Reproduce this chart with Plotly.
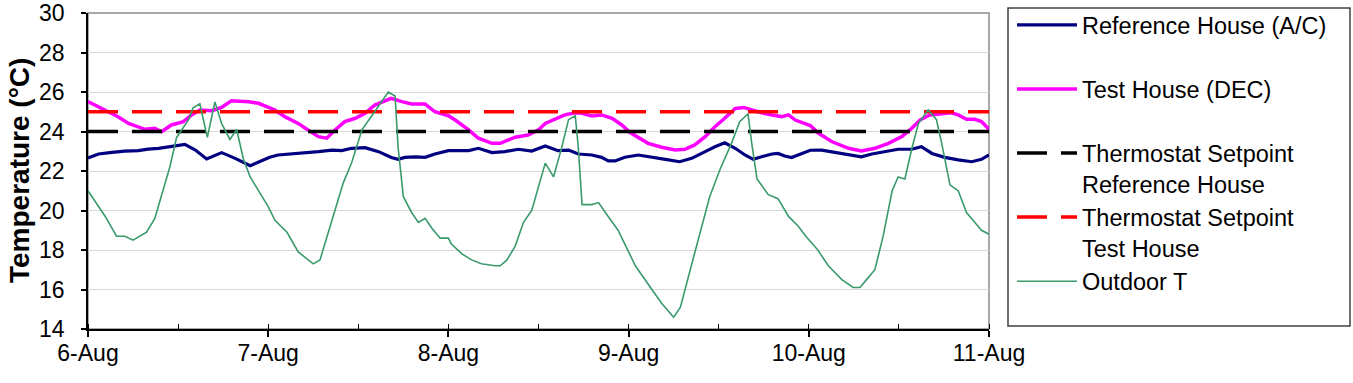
import plotly.graph_objects as go

# ---- data ----
day_labels = ["6-Aug", "7-Aug", "8-Aug", "9-Aug", "10-Aug", "11-Aug"]
day_hours = [0, 24, 48, 72, 96, 120]

ref_hours = [0, 1.4, 3.2, 4.9, 6.7, 8.0, 9.4, 11.1, 12.9, 14.3, 15.8, 17.8, 19.6, 21.6, 23.1,
             24.2, 25.3, 27.1, 28.9, 30.7, 32.5, 33.8, 35.1, 36.9, 38.7, 40.4, 41.3, 42.2, 43.6, 44.9, 46.2,
             48.0, 49.3, 50.7, 52.0, 53.8, 55.5, 57.3, 59.1, 60.9, 62.6, 64.0, 65.3, 67.1, 68.4, 69.3, 70.2, 71.5,
             73.3, 75.1, 76.9, 78.8, 80.4, 82.2, 83.5, 84.8, 86.2, 87.5, 88.6, 89.7, 91.1, 91.9, 92.8, 93.7, 95.1,
             96.2, 97.7, 99.9, 101.7, 103.0, 104.4, 106.2, 107.9, 109.7, 111.0, 112.4, 114.1, 115.9, 117.7, 119.0, 120.0]
ref_temp = [22.66, 22.86, 22.94, 23.01, 23.03, 23.11, 23.15, 23.23, 23.35, 23.06, 22.61, 22.93, 22.64, 22.27, 22.52,
            22.70, 22.81, 22.86, 22.93, 22.98, 23.06, 23.03, 23.15, 23.18, 22.98, 22.68, 22.59, 22.69, 22.72, 22.69, 22.86,
            23.03, 23.03, 23.03, 23.15, 22.93, 22.98, 23.10, 23.01, 23.27, 23.03, 23.06, 22.86, 22.81, 22.69, 22.51, 22.51, 22.70,
            22.81, 22.72, 22.59, 22.47, 22.64, 22.98, 23.23, 23.43, 23.15, 22.81, 22.59, 22.72, 22.86, 22.89, 22.76, 22.68, 22.89,
            23.05, 23.06, 22.93, 22.81, 22.72, 22.86, 22.98, 23.10, 23.10, 23.23, 22.89, 22.69, 22.56, 22.47, 22.59, 22.81]

test_hours = [0, 0.9, 2.3, 4.0, 5.4, 6.7, 7.6, 8.9, 9.8, 11.1, 12.7, 13.8, 14.9, 16.5, 17.8, 19.1, 21.4, 22.7,
              24.2, 24.9, 26.2, 28.0, 29.3, 30.7, 31.8, 32.9, 34.2, 35.6, 36.9, 38.2, 39.8, 40.4, 41.8, 43.1, 44.9, 46.2,
              48.0, 48.9, 50.7, 52.0, 53.8, 54.9, 56.0, 56.9, 58.6, 60.0, 60.9, 62.2, 63.5, 64.9, 65.8, 67.1, 68.4, 69.8, 71.1,
              72.2, 74.6, 76.4, 78.2, 79.5, 80.8, 82.2, 83.5, 84.8, 86.2, 87.3, 88.4, 89.7, 91.1, 92.4, 93.3, 94.2,
              96.2, 97.3, 99.1, 101.3, 103.0, 104.8, 106.6, 108.4, 109.7, 110.8, 112.1, 113.7, 115.0, 115.9, 117.0, 118.1, 119.0, 120.0]
test_temp = [25.52, 25.34, 25.09, 24.75, 24.41, 24.24, 24.11, 24.16, 23.99, 24.33, 24.50, 24.84, 25.09, 25.05, 25.22, 25.56, 25.51, 25.43,
             25.20, 25.09, 24.75, 24.41, 24.08, 23.74, 23.66, 24.08, 24.50, 24.67, 24.92, 25.34, 25.59, 25.68, 25.51, 25.39, 25.39, 25.00,
             24.80, 24.58, 24.08, 23.66, 23.40, 23.40, 23.57, 23.71, 23.82, 24.08, 24.41, 24.62, 24.84, 24.95, 24.92, 24.78, 24.84, 24.67, 24.33,
             23.95, 23.40, 23.20, 23.06, 23.10, 23.32, 23.74, 24.24, 24.67, 25.17, 25.22, 25.09, 24.95, 24.84, 24.75, 24.84, 24.58,
             24.30, 23.91, 23.48, 23.15, 23.01, 23.15, 23.40, 23.74, 24.16, 24.58, 24.84, 24.89, 24.95, 24.84, 24.62, 24.62, 24.50, 24.11]

out_hours = [0, 2.3, 3.8, 4.9, 6.0, 7.8, 8.9, 10.0, 10.9, 11.8, 12.5, 13.4, 14.0, 14.9, 15.9, 16.9, 17.8, 18.9, 19.8, 20.7, 21.6, 22.7, 24.0,
             24.9, 26.5, 28.0, 30.0, 30.9, 32.5, 34.0, 35.1, 36.5, 37.8, 38.9, 40.0, 40.9, 41.3, 42.0, 43.1, 44.0, 44.9, 45.8, 46.9, 48.0,
             48.4, 49.8, 51.1, 52.4, 54.2, 54.9, 55.8, 56.9, 58.0, 59.1, 60.0, 60.9, 62.0, 63.1, 64.0, 64.9, 65.3, 65.8, 67.1, 68.0, 68.9, 69.8, 70.6, 71.5,
             72.9, 75.1, 76.4, 78.0, 78.9, 80.0, 81.3, 82.8, 84.2, 85.7, 86.8, 87.9, 88.4, 89.1, 90.6, 91.9, 93.3, 94.6, 95.6,
             97.2, 98.6, 100.4, 101.9, 102.8, 103.7, 104.8, 105.9, 107.1, 107.9, 108.8, 109.7, 110.6, 111.9, 113.0, 113.7, 114.8,
             115.9, 117.0, 118.1, 119.0, 120.0]
out_temp = [21.0, 19.7, 18.7, 18.7, 18.5, 18.9, 19.6, 21.0, 22.2, 23.7, 24.1, 24.6, 25.2, 25.4, 23.7, 25.5, 24.4, 23.6, 24.1, 22.6, 21.7, 21.0, 20.2,
            19.5, 18.9, 17.9, 17.3, 17.5, 19.5, 21.4, 22.4, 24.1, 24.8, 25.4, 26.0, 25.8, 23.2, 20.7, 19.9, 19.4, 19.6, 19.1, 18.6, 18.6,
            18.3, 17.8, 17.5, 17.3, 17.2, 17.2, 17.5, 18.2, 19.4, 20.0, 21.2, 22.4, 21.7, 23.2, 24.6, 24.8, 23.2, 20.3, 20.3, 20.4, 19.9, 19.4, 19.0, 18.3,
            17.2, 16.0, 15.3, 14.6, 15.1, 16.7, 18.5, 20.7, 22.1, 23.4, 24.5, 24.9, 23.4, 21.6, 20.8, 20.6, 19.7, 19.2, 18.7,
            18.0, 17.2, 16.5, 16.1, 16.1, 16.5, 17.0, 18.7, 21.0, 21.7, 21.6, 23.1, 24.4, 25.1, 24.6, 23.4, 21.3,
            21.0, 19.9, 19.4, 19.0, 18.8]

setpoint_ref = 24
setpoint_test = 25
period = [day_hours[0], day_hours[-1]]

series_names = ["Reference House (A/C)", "Test House (DEC)",
                "Thermostat Setpoint<br>Reference House", "Thermostat Setpoint<br>Test House",
                "Outdoor T"]

FONT = "Liberation Sans, Arial, sans-serif"
BLANK = "<br>\u00a0"

fig = go.Figure()
fig.add_trace(go.Scatter(x=ref_hours, y=ref_temp, mode="lines", name=series_names[0] + BLANK,
                         line=dict(color="#000080", width=3.2)))
fig.add_trace(go.Scatter(x=test_hours, y=test_temp, mode="lines", name=series_names[1] + BLANK,
                         line=dict(color="#ff00ff", width=3.5)))
fig.add_trace(go.Scatter(x=period, y=[setpoint_ref] * 2, mode="lines", name=series_names[2],
                         line=dict(color="#000000", width=3.5, dash="30px,14px")))
fig.add_trace(go.Scatter(x=period, y=[setpoint_test] * 2, mode="lines", name=series_names[3],
                         line=dict(color="#ff0000", width=3.5, dash="30px,14px")))
fig.add_trace(go.Scatter(x=out_hours, y=out_temp, mode="lines", name=series_names[4] + BLANK,
                         line=dict(color="#3a9a6c", width=1.6)))

L, R, T, B = 88, 364, 13, 54
W, H = 1353, 383
pw, ph = W - L - R, H - T - B

def px_x(p):
    return (p - L) / pw

def px_y(p):
    return (H - B - p) / ph

fig.update_layout(
    width=W, height=H,
    margin=dict(l=L, r=R, t=T, b=B, pad=0, autoexpand=False),
    paper_bgcolor="white", plot_bgcolor="white",
    font=dict(family=FONT, size=23, color="#000000"),
    showlegend=True,
    legend=dict(x=px_x(1012), y=px_y(3), xanchor="left", yanchor="top",
                bgcolor="rgba(0,0,0,0)", borderwidth=0, maxheight=1,
                font=dict(family=FONT, size=23.5, color="#000000"),
                tracegroupgap=0, valign="top", itemwidth=60,
                traceorder="normal"),
    xaxis=dict(range=period, tickmode="array", tickvals=day_hours, ticktext=day_labels,
               ticks="outside", ticklen=6, tickwidth=1.5, tickcolor="#000000",
               showline=True, linecolor="#000000", linewidth=1.5,
               showgrid=False, zeroline=False,
               minor=dict(tickmode="linear", tick0=0, dtick=12, ticks="inside",
                          ticklen=5, tickwidth=1.2, tickcolor="#000000", showgrid=False),
               tickfont=dict(family=FONT, size=23), ticklabelstandoff=-3),
    yaxis=dict(range=[14, 30], tick0=14, dtick=2, ticks="outside", ticklen=5, tickwidth=1.5,
               tickcolor="#000000", showline=True, linecolor="#000000", linewidth=1.5,
               showgrid=True, gridcolor="#d9d9d9", gridwidth=1, zeroline=False,
               tickfont=dict(family=FONT, size=23), ticklabelstandoff=12),
    shapes=[
        dict(type="rect", xref="paper", yref="paper", x0=0, x1=1, y0=0, y1=1,
             line=dict(color="#8c8c8c", width=1.5), layer="below"),
        dict(type="rect", xref="paper", yref="paper", x0=px_x(1008), x1=px_x(1350),
             y0=px_y(326), y1=px_y(8), line=dict(color="#404040", width=1.5),
             fillcolor="rgba(0,0,0,0)", layer="above"),
    ],
    annotations=[
        dict(text="<b>Temperature (°C)</b>", xref="paper", yref="paper",
             x=px_x(19), y=px_y(171), xanchor="center", yanchor="middle",
             textangle=-90, showarrow=False,
             font=dict(family=FONT, size=28, color="#000000")),
    ],
)

fig.write_html("out.html")
